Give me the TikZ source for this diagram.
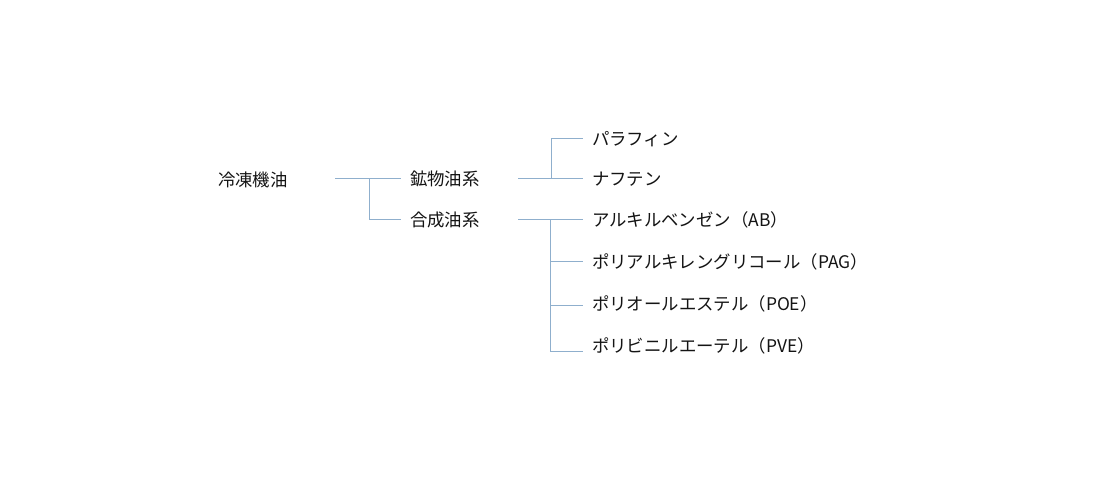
\documentclass[tikz,border=0pt]{standalone}
\usepackage{fontspec}
\setmainfont{Noto Sans CJK JP}
\definecolor{conn}{RGB}{143,175,205}
\definecolor{txt}{RGB}{20,20,20}
\tikzset{
  lbl/.style={anchor=base west,inner sep=0pt,outer sep=0pt,font=\fontsize{17.4}{20}\selectfont,text=txt},
  conline/.style={draw=conn,line width=1pt}
}
\begin{document}
\begin{tikzpicture}[x=1pt,y=-1pt]
\useasboundingbox[fill=white] (0,0) rectangle (1100,498);
% labels (baseline = visual centre + 6.4)
\node[lbl] (root) at (218,186.4) {冷凍機油};
\node[lbl] (min) at (410,185.4) {鉱物油系};
\node[lbl] (syn) at (410,226.4) {合成油系};
\node[lbl] (par) at (592,145.4) {パラフィン};
\node[lbl] (naf) at (592,185.4) {ナフテン};
\node[lbl] (ab) at (592,226.4) {アルキルベンゼン（AB）};
\node[lbl] (pag) at (592,268.4) {ポリアルキレングリコール（PAG）};
\node[lbl] (poe) at (592,310.4) {ポリオールエステル（POE）};
\node[lbl] (pve) at (592,352.4) {ポリビニルエーテル（PVE）};
% connector coordinates
\coordinate (r0) at (335,178);
\coordinate (j1) at (369,178);
\coordinate (m0) at (401,178);
\coordinate (s0) at (401,219);
\coordinate (mo) at (518,178);
\coordinate (j2) at (551,178);
\coordinate (so) at (518,219);
\coordinate (j3) at (550,219);
\coordinate (pa) at (583,138);
\coordinate (na) at (583,178);
\coordinate (abe) at (583,219);
\coordinate (pge) at (583,261);
\coordinate (poee) at (583,305);
\coordinate (pvee) at (583,351);
% level 1
\draw[conline] (r0) -- (m0);
\draw[conline] (j1) |- (s0);
% mineral
\draw[conline] (mo) -- (na);
\draw[conline] (j2) |- (pa);
% synthetic
\draw[conline] (so) -- (abe);
\draw[conline] (j3) |- (pvee);
\draw[conline] (j3 |- pge) -- (pge);
\draw[conline] (j3 |- poee) -- (poee);
\end{tikzpicture}
\end{document}
